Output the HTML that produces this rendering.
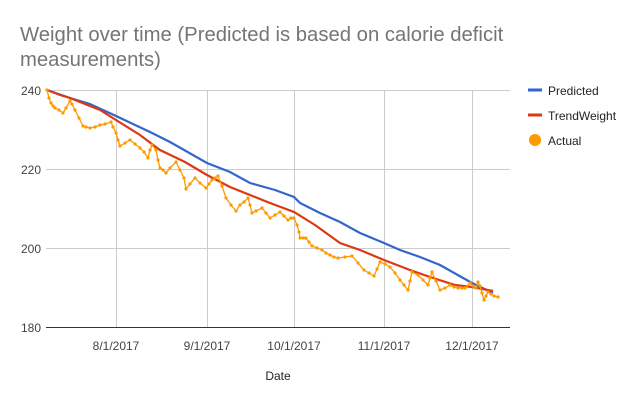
<!DOCTYPE html><html><head><style>body{margin:0;background:#fff}svg{font-family:"Liberation Sans",sans-serif}</style></head><body>
<svg width="637" height="403" xmlns="http://www.w3.org/2000/svg">
<defs><marker id="d" markerWidth="4" markerHeight="4" refX="2" refY="2" markerUnits="userSpaceOnUse"><circle cx="2" cy="2" r="1.6" fill="#ff9900"/></marker></defs>
<text x="20" y="41" font-size="20.3" fill="#757575">Weight over time (Predicted is based on calorie deficit</text>
<text x="20" y="66" font-size="20.3" fill="#757575">measurements)</text>
<g stroke="#cccccc" stroke-width="1">
<line x1="46" y1="90.5" x2="510" y2="90.5"/><line x1="46" y1="169.5" x2="510" y2="169.5"/><line x1="46" y1="248.5" x2="510" y2="248.5"/>
<line x1="116.5" y1="90" x2="116.5" y2="327"/><line x1="207.5" y1="90" x2="207.5" y2="327"/><line x1="294.5" y1="90" x2="294.5" y2="327"/><line x1="384.5" y1="90" x2="384.5" y2="327"/><line x1="472.5" y1="90" x2="472.5" y2="327"/>
</g>
<line x1="46" y1="327.5" x2="510" y2="327.5" stroke="#333" stroke-width="1"/>
<g font-size="12" fill="#444" text-anchor="end"><text x="41" y="95">240</text><text x="41" y="174">220</text><text x="41" y="253">200</text><text x="41" y="332">180</text></g>
<g font-size="12" fill="#444" text-anchor="middle"><text x="116" y="350">8/1/2017</text><text x="207" y="350">9/1/2017</text><text x="294" y="350">10/1/2017</text><text x="384" y="350">11/1/2017</text><text x="472" y="350">12/1/2017</text></g>
<text x="278" y="380" font-size="12" fill="#222" text-anchor="middle">Date</text>
<polyline fill="none" stroke="#3366cc" stroke-width="2.2" points="47,90 70,98 90,104 116,116 150,132 170,142 207,163 230,172 250,183 275,190 294,197 300,203 320,213 340,222 360,233 384,243 400,250 420,257 440,265 472,283 493,293"/>
<polyline fill="none" stroke="#dc3912" stroke-width="2.2" points="47,90 60,95 70,98 85,104 100,110 116,120 140,135 160,150 185,162 207,175 230,187 250,195 270,203 294,212 315,225 340,243 360,250 384,260 410,270 430,277 455,285 472,287 493,291"/>
<polyline fill="none" stroke="#ff9900" stroke-width="1.3" marker-start="url(#d)" marker-mid="url(#d)" marker-end="url(#d)" points="47,90 49,98 51,103 53,106 55,108 59,110 63,113 66,108 70,101 72,104 75,110 79,118 83,126 86,127 90,128 95,127 100,125 105,124 111,122 113,127 116,133 118,140 120,146 125,143 130,140 135,144 140,148 144,152 148,158 150,150 152,145 156,150 158,160 160,168 163,170 166,173 170,168 176,162 180,170 184,178 186,189 190,184 195,178 200,183 206,188 209,184 212,180 215,178 218,176 222,186 226,198 231,205 236,211 240,205 244,202 248,198 250,205 252,213 256,211 262,208 266,213 270,218 275,215 280,212 284,216 288,220 291,218 294,218 297,225 299,232 300,238 303,238 306,238 309,242 312,246 317,248 322,250 326,253 330,255 334,257 338,258 345,257 352,256 358,263 364,270 369,273 374,276 377,269 380,262 385,264 390,267 395,273 400,280 404,285 408,290 410,281 412,272 418,275 423,280 428,285 430,278 432,272 436,281 440,290 445,288 450,285 454,287 458,288 462,288 465,288 470,283 473,286 476,288 478,282 480,286 482,293 484,300 486,296 488,292 491,294 494,296 498,297"/>
<line x1="528" y1="90" x2="542" y2="90" stroke="#3366cc" stroke-width="3"/>
<text x="548" y="95" font-size="12" fill="#222">Predicted</text>
<line x1="528" y1="115" x2="542" y2="115" stroke="#dc3912" stroke-width="3"/>
<text x="548" y="120" font-size="12" fill="#222">TrendWeight</text>
<circle cx="535" cy="140" r="6" fill="#ff9900"/>
<text x="548" y="145" font-size="12" fill="#222">Actual</text>
</svg></body></html>
